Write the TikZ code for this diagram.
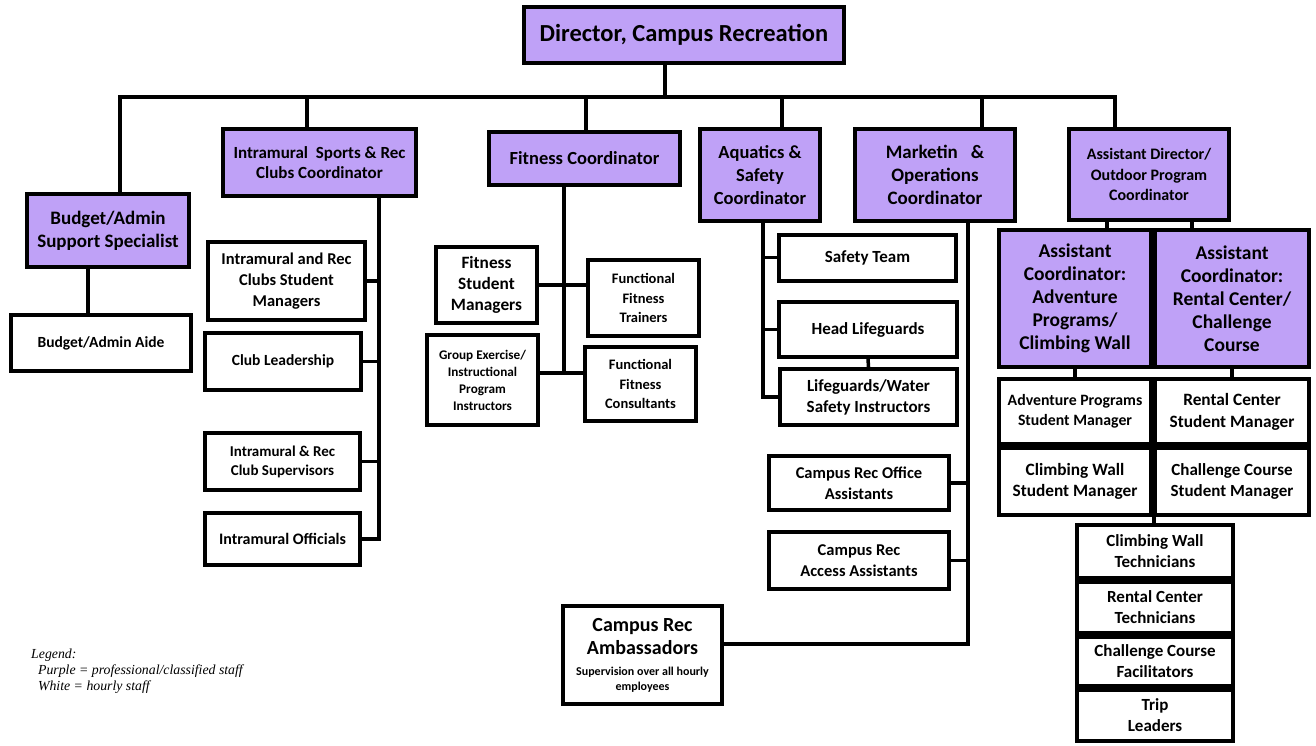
\documentclass[tikz,border=0pt]{standalone}
\usepackage{fontspec}
\setmainfont{Carlito}
\newfontfamily\legendfont{Liberation Serif}
\usetikzlibrary{positioning,calc}
\definecolor{recPurple}{RGB}{191,161,247}
\newcommand{\fsz}[2]{\fontsize{#1}{#2}\selectfont}
\tikzset{
  purpbox/.style={draw=black,fill=recPurple,line width=4pt,align=center,inner sep=1pt},
  hourbox/.style={draw=black,fill=white,line width=4pt,align=center,inner sep=1pt},
  link/.style={draw=black,line width=3.5pt},
}

\begin{document}
\begin{tikzpicture}[x=1pt,y=-1pt]
  \useasboundingbox (0,0) rectangle (1316,745);

  % ── director and top bus ───────────────────────────────
  \node[purpbox,minimum width=320pt,minimum height=56pt,font=\bfseries\fsz{24.5}{28}]
    (dir) at (684,35) {Director, Campus Recreation};
  \coordinate (busM) at (665,97);
  \coordinate (busL) at (120,97);
  \coordinate (busR) at (1115,97);
  \coordinate (dropIm) at (307,97);
  \coordinate (dropFit) at (586,97);
  \coordinate (dropAq) at (782,97);
  \coordinate (dropMkt) at (982,97);

  % ── coordinators ───────────────────────────────────────
  \node[purpbox,minimum width=162pt,minimum height=73pt,font=\bfseries\fsz{19}{23}]
    (budspec) at (108,230.5) {Budget/Admin\\Support Specialist};
  \node[purpbox,minimum width=193pt,minimum height=67pt,font=\bfseries\fsz{17}{19.5}]
    (imcoord) at (319.5,162.5) {Intramural\ \ Sports \& Rec\\Clubs Coordinator};
  \node[purpbox,minimum width=191pt,minimum height=53pt,font=\bfseries\fsz{18.5}{22}]
    (fitcoord) at (584.5,158.5) {Fitness Coordinator};
  \node[purpbox,minimum width=120pt,minimum height=92pt,font=\bfseries\fsz{18.5}{23}]
    (aqcoord) at (760,175) {Aquatics \&\\Safety\\Coordinator};
  \node[purpbox,minimum width=160pt,minimum height=92pt,font=\bfseries\fsz{19}{23}]
    (mktcoord) at (935,175) {Marketin\ \ \ \&\\Operations\\Coordinator};
  \node[purpbox,minimum width=160pt,minimum height=91pt,font=\bfseries\fsz{16}{20.5}]
    (asdir) at (1149,174.5) {Assistant Director/\\Outdoor Program\\Coordinator};

  \draw[link] (dir.south -| busM) -- (busM);
  \draw[link] (budspec.north -| busL) -- (busL) -- (busR) -- (asdir.north -| busR);
  \draw[link] (dropIm) -- (imcoord.north -| dropIm);
  \draw[link] (dropFit) -- (fitcoord.north -| dropFit);
  \draw[link] (dropAq) -- (aqcoord.north -| dropAq);
  \draw[link] (dropMkt) -- (mktcoord.north -| dropMkt);

  % ── budget ─────────────────────────────────────────────
  \node[hourbox,minimum width=180pt,minimum height=56pt,font=\bfseries\fsz{15.5}{18}]
    (budaide) at (101,343) {Budget/Admin Aide};
  \coordinate (budX) at (88,0);
  \draw[link] (budspec.south -| budX) -- (budaide.north -| budX);

  % ── intramural sports ──────────────────────────────────
  \node[hourbox,minimum width=157pt,minimum height=78pt,font=\bfseries\fsz{16.5}{21}]
    (imsm) at (286.5,281) {Intramural and Rec\\Clubs Student\\Managers};
  \node[hourbox,minimum width=156pt,minimum height=57pt,font=\bfseries\fsz{15.5}{18}]
    (imcl) at (283,361.5) {Club Leadership};
  \node[hourbox,minimum width=155pt,minimum height=57pt,font=\bfseries\fsz{15}{19}]
    (imsup) at (282.5,461.5) {Intramural \& Rec\\Club Supervisors};
  \node[hourbox,minimum width=155pt,minimum height=52pt,font=\bfseries\fsz{16}{18}]
    (imoff) at (282.5,539) {Intramural Officials};
  \coordinate (imX) at (379,0);
  \draw[link] (imcoord.south -| imX) -- (imoff.east -| imX) -- (imoff.east);
  \draw[link] (imsm.east) -- (imsm.east -| imX);
  \draw[link] (imcl.east) -- (imcl.east -| imX);
  \draw[link] (imsup.east) -- (imsup.east -| imX);

  % ── fitness ────────────────────────────────────────────
  \node[hourbox,minimum width=101pt,minimum height=76pt,font=\bfseries\fsz{17.3}{21}]
    (fsm) at (486.5,285) {Fitness\\Student\\Managers};
  \node[hourbox,minimum width=111pt,minimum height=76pt,font=\bfseries\fsz{14.5}{19.5}]
    (fft) at (643.5,298) {Functional\\Fitness\\Trainers};
  \node[hourbox,minimum width=111pt,minimum height=90pt,font=\bfseries\fsz{13.2}{17}]
    (gex) at (482.5,380) {Group Exercise/\\Instructional\\Program\\Instructors};
  \node[hourbox,minimum width=111pt,minimum height=74pt,font=\bfseries\fsz{14.5}{19.5}]
    (ffc) at (640.5,384) {Functional\\Fitness\\Consultants};
  \coordinate (fitX) at (564,0);
  \coordinate (fitLo) at (564,373);
  \draw[link] (fitcoord.south -| fitX) -- (fitLo);
  \draw[link] (fsm.east) -- (fsm.east -| fft.west);
  \draw[link] (gex.east |- fitLo) -- (ffc.west |- fitLo);

  % ── aquatics ───────────────────────────────────────────
  \node[hourbox,minimum width=177pt,minimum height=46pt,font=\bfseries\fsz{17}{20}]
    (safety) at (867.5,257.5) {Safety Team};
  \node[hourbox,minimum width=178pt,minimum height=55pt,font=\bfseries\fsz{17}{20}]
    (headlg) at (868,329.5) {Head Lifeguards};
  \node[hourbox,minimum width=177pt,minimum height=56pt,font=\bfseries\fsz{17}{21}]
    (lifeg) at (868.5,397) {Lifeguards/Water\\Safety Instructors};
  \coordinate (aqX) at (763,0);
  \draw[link] (aqcoord.south -| aqX) -- (lifeg.west -| aqX) -- (lifeg.west);
  \draw[link] (safety.west) -- (safety.west -| aqX);
  \draw[link] (headlg.west) -- (headlg.west -| aqX);
  \draw[link] (headlg.south) -- (lifeg.north);

  % ── marketing & operations ─────────────────────────────
  \node[hourbox,minimum width=180pt,minimum height=54pt,font=\bfseries\fsz{16.5}{21}]
    (office) at (859,483) {Campus Rec Office\\Assistants};
  \node[hourbox,minimum width=180pt,minimum height=57pt,font=\bfseries\fsz{16.5}{21}]
    (access) at (859,560.5) {Campus Rec\\Access Assistants};
  \node[hourbox,minimum width=159pt,minimum height=98pt,font=\bfseries\fsz{20}{23}]
    (amb) at (642.5,655)
    {Campus Rec\\Ambassadors\\[-2pt]{\fsz{12}{14}Supervision over all hourly}\\[-8pt]{\fsz{12}{14}employees}};
  \coordinate (mktLo) at (968,644);
  \draw[link] (mktcoord.south -| mktLo) -- (mktLo) -- (mktLo -| amb.east);
  \draw[link] (office.east) -- (office.east -| mktLo);
  \draw[link] (access.east) -- (access.east -| mktLo);

  % ── outdoor program ────────────────────────────────────
  \node[purpbox,minimum width=152pt,minimum height=137pt,font=\bfseries\fsz{19.5}{23}]
    (acadv) at (1075,298.5) {Assistant\\Coordinator:\\Adventure\\Programs/\\Climbing Wall};
  \node[purpbox,minimum width=154pt,minimum height=137pt,font=\bfseries\fsz{19.5}{23}]
    (acrent) at (1232,298.5) {Assistant\\Coordinator:\\Rental Center/\\Challenge\\Course};
  \coordinate (asL) at (1107,0);
  \coordinate (asR) at (1192,0);
  \draw[link] (asdir.south -| asL) -- (acadv.north -| asL);
  \draw[link] (asdir.south -| asR) -- (acrent.north -| asR);

  \node[hourbox,minimum width=152pt,minimum height=65pt,font=\bfseries\fsz{15.8}{20}]
    (apsm) at (1075,411.5) {Adventure Programs\\Student Manager};
  \node[hourbox,minimum width=154pt,minimum height=65pt,font=\bfseries\fsz{17.3}{22}]
    (rcsm) at (1232,411.5) {Rental Center\\Student Manager};
  \node[hourbox,minimum width=152pt,minimum height=67pt,font=\bfseries\fsz{17.3}{21}]
    (cwsm) at (1075,481.5) {Climbing Wall\\Student Manager};
  \node[hourbox,minimum width=154pt,minimum height=67pt,font=\bfseries\fsz{17}{21}]
    (ccsm) at (1232,481.5) {Challenge Course\\Student Manager};
  \draw[link] (acadv.south) -- (apsm.north);
  \draw[link] (acrent.south) -- (rcsm.north);

  \node[hourbox,minimum width=156pt,minimum height=53pt,font=\bfseries\fsz{17}{21}]
    (cwtech) at (1155,551.5) {Climbing Wall\\Technicians};
  \node[hourbox,minimum width=156pt,minimum height=51pt,font=\bfseries\fsz{17}{21}]
    (rctech) at (1155,607.5) {Rental Center\\Technicians};
  \node[hourbox,minimum width=156pt,minimum height=49pt,font=\bfseries\fsz{17}{21}]
    (ccfac) at (1155,661.5) {Challenge Course\\Facilitators};
  \node[hourbox,minimum width=156pt,minimum height=51pt,font=\bfseries\fsz{17}{21}]
    (trip) at (1155,715.5) {Trip\\Leaders};
  \coordinate (gridX) at (1154,0);
  \draw[link] (cwsm.south -| gridX) -- (cwtech.north -| gridX);

  % legend
  \node[anchor=north west,align=left,inner sep=0pt,font=\legendfont\itshape\fsz{13.8}{16}]
    (legend) at (31,649) {Legend:\\\ \ Purple = professional/classified staff\\\ \ White = hourly staff};

\end{tikzpicture}
\end{document}
